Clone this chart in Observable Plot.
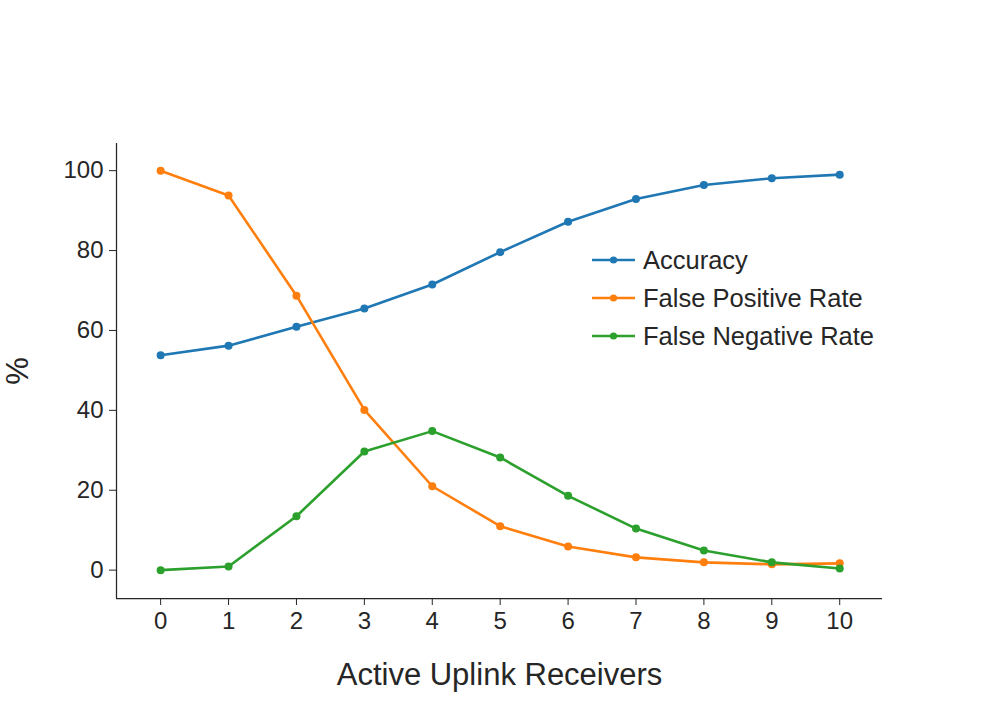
<!DOCTYPE html>
<html>
<head>
<meta charset="utf-8">
<script src="https://cdn.jsdelivr.net/npm/d3@7"></script>
<script src="https://cdn.jsdelivr.net/npm/@observablehq/plot@0.6"></script>
<style>
  html, body { margin: 0; padding: 0; background: #fff; }
  #wrap { position: relative; width: 997px; height: 712px; }
  #legend { position: absolute; left: 592px; top: 241px; font-family: "Liberation Sans", Arial, sans-serif; font-size: 25.5px; color: #262626; }
  #legend .row { display: flex; align-items: center; height: 38px; }
  #legend svg { margin-right: 8px; }
</style>
</head>
<body>
<div id="wrap"><div id="legend"></div></div>
<script>
const receivers = [0, 1, 2, 3, 4, 5, 6, 7, 8, 9, 10];
const accuracy = [53.8, 56.2, 60.9, 65.5, 71.5, 79.6, 87.2, 92.9, 96.4, 98.1, 99.0];
const falsePositive = [100.0, 93.8, 68.7, 40.1, 21.0, 11.0, 5.9, 3.2, 1.95, 1.45, 1.7];
const falseNegative = [0.0, 0.9, 13.5, 29.7, 34.8, 28.2, 18.6, 10.4, 4.9, 1.95, 0.4];
const seriesNames = ["Accuracy", "False Positive Rate", "False Negative Rate"];
const seriesColors = ["#1f77b4", "#ff7f0e", "#2ca02c"];
const yTicks = [0, 20, 40, 60, 80, 100];

const seriesValues = [accuracy, falsePositive, falseNegative];
const data = seriesNames.flatMap((name, i) =>
  receivers.map((r, j) => ({series: name, x: r, y: seriesValues[i][j]})));

const xDomain = [-0.65, 10.63];
const yDomain = [-7.1, 106.8];
const ink = "#262626";

const chart = Plot.plot({
  width: 997,
  height: 712,
  marginLeft: 116,
  marginRight: 115,
  marginTop: 143,
  marginBottom: 114,
  style: {fontFamily: "'Liberation Sans', Arial, sans-serif", fontSize: "24px", color: ink, background: "#fff"},
  x: {domain: xDomain},
  y: {domain: yDomain},
  color: {domain: seriesNames, range: seriesColors},
  marks: [
    Plot.axisX({ticks: receivers, tickFormat: d => String(d), tickSize: 7, tickPadding: 6, fontSize: 24,
      label: "Active Uplink Receivers", labelAnchor: "center", labelArrow: "none", labelOffset: 86, stroke: ink}),
    Plot.axisY({ticks: yTicks, tickSize: 7, tickPadding: 6, fontSize: 24,
      label: "%", labelAnchor: "center", labelArrow: "none", labelOffset: 111, stroke: ink}),
    Plot.ruleX([xDomain[0]], {stroke: ink, strokeWidth: 1.25}),
    Plot.ruleY([yDomain[0]], {stroke: ink, strokeWidth: 1.25}),
    Plot.line(data, {x: "x", y: "y", stroke: "series", strokeWidth: 2.6}),
    Plot.dot(data, {x: "x", y: "y", fill: "series", r: 4})
  ]
});
chart.querySelectorAll('g[aria-label="x-axis label"] text, g[aria-label="y-axis label"] text').forEach(t => t.setAttribute("font-size", "31px"));
document.getElementById("wrap").prepend(chart);

const legend = document.getElementById("legend");
seriesNames.forEach((name, i) => {
  const row = document.createElement("div");
  row.className = "row";
  row.innerHTML = `<svg width="43" height="12"><line x1="0" x2="43" y1="6" y2="6" stroke="${seriesColors[i]}" stroke-width="2.6"/><circle cx="21.5" cy="6" r="3.6" fill="${seriesColors[i]}"/></svg><span>${name}</span>`;
  legend.appendChild(row);
});
</script>
</body>
</html>
